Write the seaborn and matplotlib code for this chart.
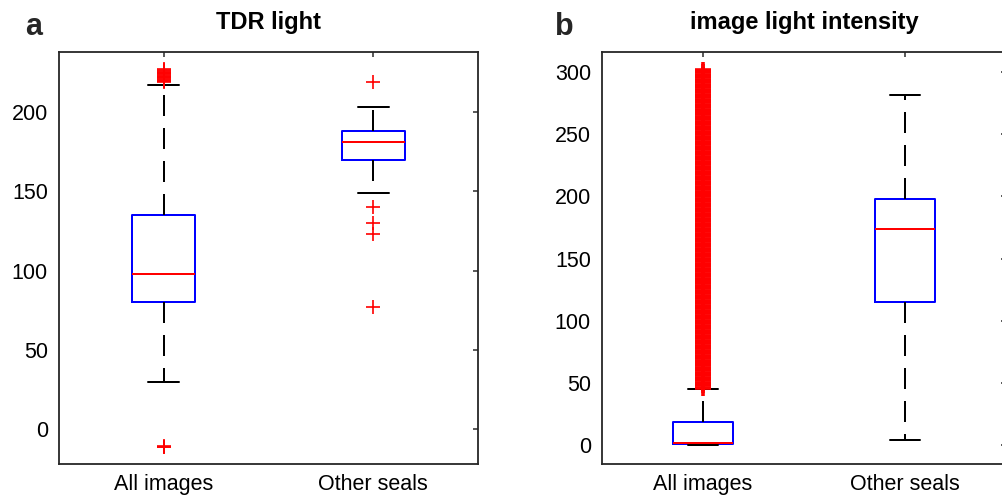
import numpy as np
import pandas as pd
import matplotlib
matplotlib.use("Agg")
import matplotlib.pyplot as plt
import seaborn as sns

# ---------------- data ----------------
categories = ["All images", "Other seals"]
titles = ["TDR light", "image light intensity"]
panel_letters = ["a", "b"]

# five-number summaries: lower whisker, Q1, median, Q3, upper whisker
tdr_all_summary = [30, 80, 98, 135, 217]
tdr_other_summary = [149, 170, 181, 188, 203]
tdr_all_outliers = [219, 219.5, 220, 220.5, 221, 221.5, 222, 222.5, 223, 223.5,
                    224, 224.5, 225, 225.5, 226, 226.5, 227, -11.5, -11, -10.5]
tdr_other_outliers = [219, 140, 130, 123, 77]

img_all_summary = [0, 1, 2, 18.5, 45]
img_other_summary = [4, 115, 174, 198, 282]
img_all_outliers = [46, 48, 50, 52, 54, 56, 58, 60, 62, 64, 66, 68, 70, 72, 74, 76,
                    78, 80, 82, 84, 86, 88, 90, 92, 94, 96, 98, 100, 102, 104, 106,
                    108, 110, 112, 114, 116, 118, 120, 122, 124, 126, 128, 130, 132,
                    134, 136, 138, 140, 142, 144, 146, 148, 150, 152, 154, 156, 158,
                    160, 162, 164, 166, 168, 170, 172, 174, 176, 178, 180, 182, 184,
                    186, 188, 190, 192, 194, 196, 198, 200, 202, 204, 206, 208, 210,
                    212, 214, 216, 218, 220, 222, 224, 226, 228, 230, 232, 234, 236,
                    238, 240, 242, 244, 246, 248, 250, 252, 254, 256, 258, 260, 262,
                    264, 266, 268, 270, 272, 274, 276, 278, 280, 282, 284, 286, 288,
                    290, 292, 294, 296, 298, 300, 302]
img_other_outliers = []

yticks_a = [0, 50, 100, 150, 200]
yticks_b = [0, 50, 100, 150, 200, 250, 300]
ylim_a = (-22, 238)
ylim_b = (-15.3, 316.3)

# ---------------- style ----------------
sns.set_style("white")
plt.rcParams["font.family"] = ["Liberation Sans", "DejaVu Sans"]
plt.rcParams["lines.scale_dashes"] = False

PX = 0.72  # points per pixel at dpi 100
fig = plt.figure(figsize=(10.02, 4.99), dpi=100)
ax_a = fig.add_axes([59 / 1002, 35 / 499, 419 / 1002, 412 / 499])
ax_b = fig.add_axes([602 / 1002, 35 / 499, 404 / 1002, 412 / 499])


def summary_to_sample(s):
    lo, q1, med, q3, hi = s
    return [lo, q1, q1, med, q3, q3, hi]


def make_frames(sum_list, out_list):
    rows, orows = [], []
    for cat, s, o in zip(categories, sum_list, out_list):
        rows += [(cat, v) for v in summary_to_sample(s)]
        orows += [(cat, v) for v in o]
    return (pd.DataFrame(rows, columns=["group", "value"]),
            pd.DataFrame(orows, columns=["group", "value"]))


panels = [
    (ax_a, [tdr_all_summary, tdr_other_summary], [tdr_all_outliers, tdr_other_outliers],
     yticks_a, ylim_a, 9.5, 1.2),
    (ax_b, [img_all_summary, img_other_summary], [img_all_outliers, img_other_outliers],
     yticks_b, ylim_b, 11, 2.6),
]

for i, (ax, sums, outs, yt, yl, msize, mew) in enumerate(panels):
    df, fl = make_frames(sums, outs)
    sns.boxplot(data=df, x="group", y="value", order=categories, ax=ax,
                width=0.3, whis=(0, 100), fill=False, showfliers=False,
                boxprops=dict(color="#0000ff", linewidth=2.0 * PX),
                whiskerprops=dict(color="black", linewidth=2.0 * PX,
                                  linestyle=(0, (21 * PX, 12 * PX))),
                capprops=dict(color="black", linewidth=2.0 * PX),
                medianprops=dict(color="#ff0000", linewidth=2.0 * PX))
    sns.stripplot(data=fl, x="group", y="value", order=categories, ax=ax,
                  jitter=False, marker="+", color="#ff0000", size=msize,
                  linewidth=mew, zorder=3)
    ax.set_xlim(-0.5, 1.5)
    ax.set_ylim(*yl)
    ax.set_yticks(yt)
    ax.set_xticks([0, 1])
    ax.set_xticklabels(categories)
    ax.set_xlabel("")
    ax.set_ylabel("")
    for sp in ax.spines.values():
        sp.set_visible(True)
        sp.set_color("#262626")
        sp.set_linewidth(1.8 * PX)
    ax.tick_params(axis="both", which="major", direction="in", top=True, right=True,
                   length=5 * PX, width=1.5 * PX, color="#262626",
                   labelsize=15.5, labelcolor="black")
    ax.tick_params(axis="y", pad=8)
    ax.tick_params(axis="x", pad=7)
    ax.set_title(titles[i], fontsize=17, fontweight="bold", pad=16.6, color="black")

fig.text(25 / 1002, 1 - 35 / 499, panel_letters[0], fontsize=22, fontweight="bold",
         ha="left", va="baseline")
fig.text(555 / 1002, 1 - 35 / 499, panel_letters[1], fontsize=22, fontweight="bold",
         ha="left", va="baseline")

fig.savefig("out.png", dpi=100)
